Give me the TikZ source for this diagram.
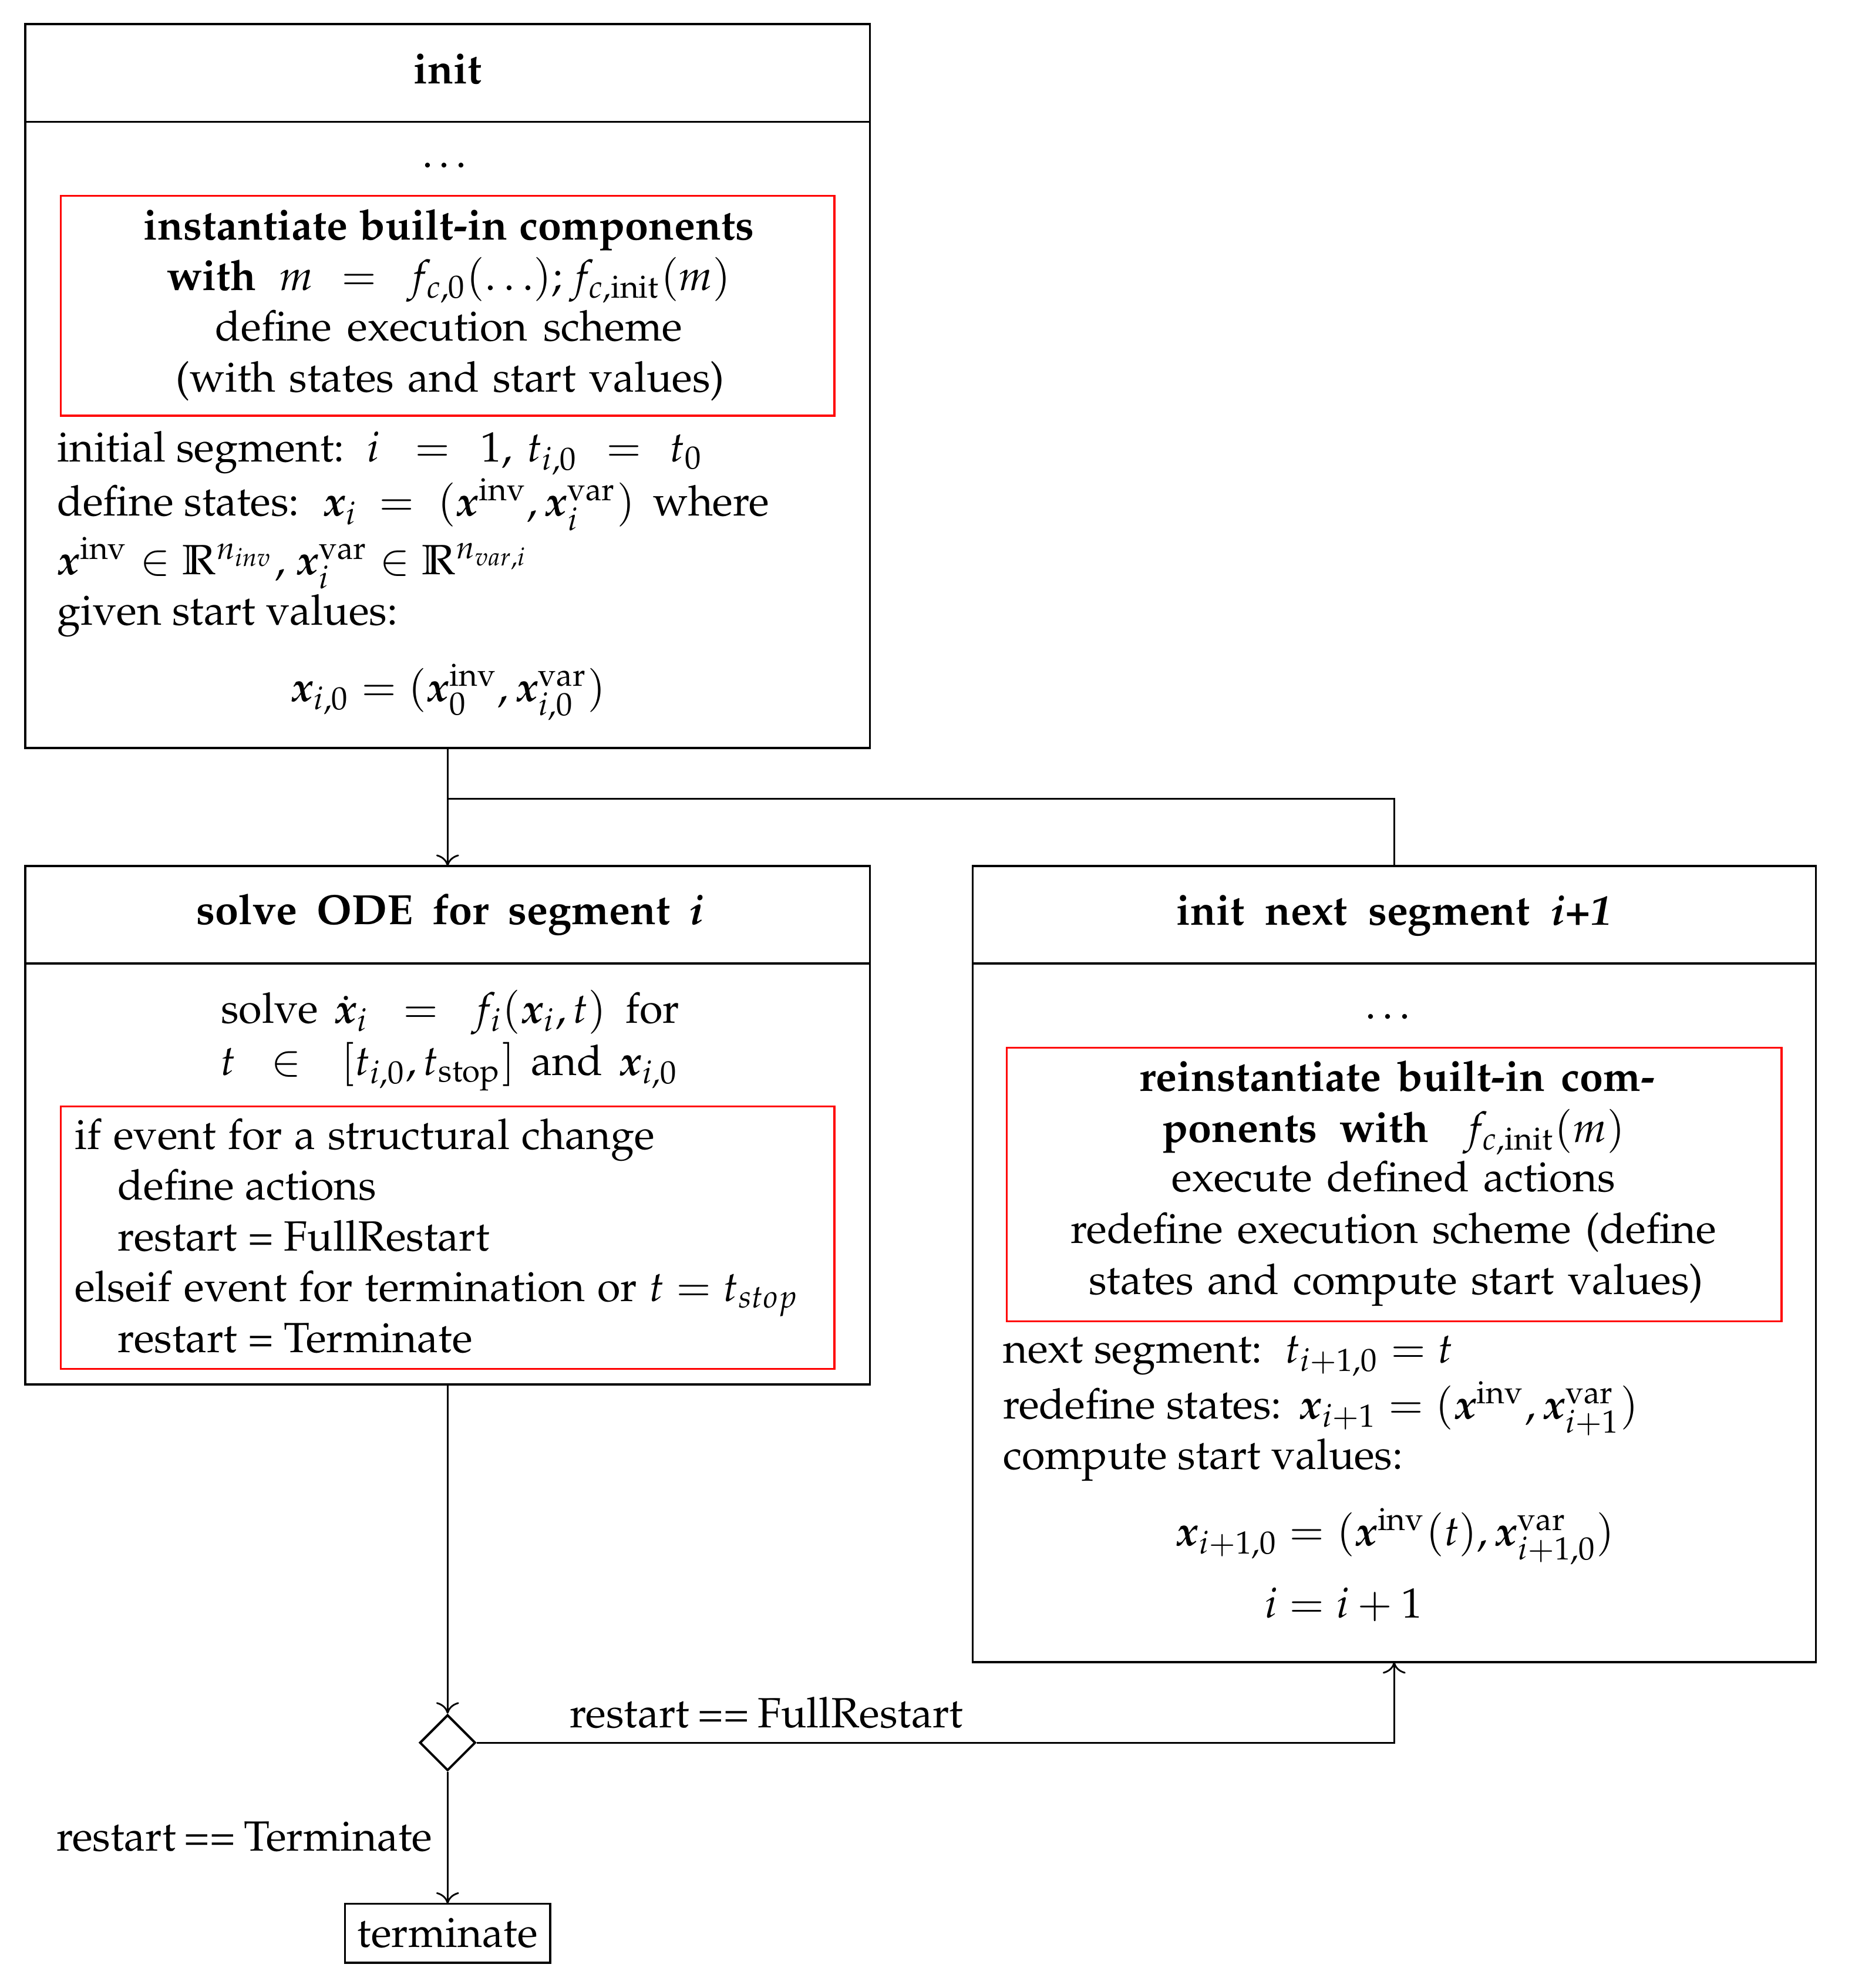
\documentclass[tikz,border=0pt]{standalone}
\usepackage[T1]{fontenc}
\usepackage{mathpazo}
\usepackage{amsmath}
\usetikzlibrary{shapes.geometric,arrows.meta}
\newcommand{\bx}{\boldsymbol{x}}
\begin{document}
\begin{tikzpicture}[x=0.3pt,y=-0.3pt,
  box/.style={draw,line width=0.5pt,rectangle,inner sep=0pt,outer sep=0pt},
  redbox/.style={draw=red,line width=0.45pt,rectangle,inner sep=0pt,outer sep=0pt},
  txt/.style={inner sep=0pt,outer sep=0pt},
  conn/.style={line width=0.4pt},
  arr/.style={-{To[width=5.4pt,length=2.7pt]},line width=0.4pt},
  dec/.style={diamond,draw,line width=0.55pt,inner sep=0pt,minimum width=13.2pt,minimum height=13.2pt}]
\useasboundingbox (0,0) rectangle (1468,1568);
% boxes
\node[box,minimum width=199.8pt,minimum height=171.3pt] (init) at (353,304.5) {};
\draw[box] ([yshift=-23.1pt]init.north west) -- ([yshift=-23.1pt]init.north east);
\node[box,minimum width=199.8pt,minimum height=122.7pt] (solve) at (353,887.5) {};
\draw[box] ([yshift=-23.1pt]solve.north west) -- ([yshift=-23.1pt]solve.north east);
\node[box,minimum width=199.5pt,minimum height=188.4pt] (next) at (1099.5,997) {};
\draw[box] ([yshift=-23.1pt]next.north west) -- ([yshift=-23.1pt]next.north east);
\node[redbox,minimum width=183pt,minimum height=51.96pt] (r1) at (353,241.2) {};
\node[redbox,minimum width=183pt,minimum height=62.1pt] (r2) at (353,976) {};
\node[redbox,minimum width=183.3pt,minimum height=64.7pt] (r3) at (1099.5,934.2) {};
\node[dec] (dec) at (353,1374.5) {};
\node[box,minimum width=48.6pt,minimum height=14pt] (term) at (353,1524.8) {terminate};
\coordinate (join) at (353,630);
% connectors
\draw[arr] (init.south) -- (solve.north);
\draw[conn] (next.north) |- (join);
\draw[arr] (solve.south) -- (dec.north);
\draw[arr] (dec.east) -| (next.south);
\draw[arr] (dec.south) -- (term.north);
\node[txt,anchor=base] (lblF) at (604.5,1362.8) {\spaceskip=2pt\relax restart == FullRestart};
\node[txt,anchor=base east] (lblT) at (341,1460) {\spaceskip=2pt\relax restart == Terminate};
% init box texts
\node[txt,anchor=base] (t0) at (353,66) {\textbf{init}};
\node[txt,anchor=base] (t1) at (353,132) {\ldots};
\node[txt,anchor=base] (t2) at (354,189) {\bfseries\spaceskip=2.8pt\relax instantiate built-in components};
\node[txt,anchor=base] (t3) at (354,229) {\textbf{with}\hspace{5.5pt}$m\mkern7mu=\mkern8mu f_{c,0}(\ldots);f_{c,\text{init}}(m)$};
\node[txt,anchor=base] (t4) at (354,269) {\spaceskip=3.7pt\relax define execution scheme};
\node[txt,anchor=base] (t5) at (355,309) {\spaceskip=3.2pt\relax (with states and start values)};
\node[txt,anchor=base west] (t6) at (45,364) {initial segment:\hspace{5.3pt}$i\mkern10mu=\mkern8mu1$,\hspace{3.5pt}$t_{i,0}\mkern7mu=\mkern7mu t_0$};
\node[txt,anchor=base west] (t7) at (45,407) {define states:\hspace{5.6pt}$\bx_i\mkern4mu=\mkern5mu(\bx^{\text{inv}},\bx_i^{\text{var}})$\hspace{4.3pt}where};
\node[txt,anchor=base west] (t8) at (45,453) {$\bx^{\text{inv}}\in\mathbb{R}^{n_{inv}}$, $\bx_i^{\text{var}}\in\mathbb{R}^{n_{var,i}}$};
\node[txt,anchor=base west] (t9) at (45,493) {given start values:};
\node[txt,anchor=base] (t10) at (353.5,553) {$\bx_{i,0}=(\bx_0^{\text{inv}},\bx_{i,0}^{\text{var}})$};
% solve box texts
\node[txt,anchor=base] (s0) at (355,729) {\bfseries\spaceskip=4.6pt\relax solve ODE for segment \textit{i}};
\node[txt,anchor=base] (s1) at (355,807) {solve\hspace{3.8pt}$\dot{\bx}_i\mkern9.5mu=\mkern9mu f_i(\bx_i,t)$\hspace{4.5pt}for};
\node[txt,anchor=base] (s2) at (354.5,848) {$t\mkern10mu\in\mkern12mu[t_{i,0},t_{\text{stop}}]$\hspace{3.8pt}and\hspace{4pt}$\bx_{i,0}$};
\node[txt,anchor=base west] (s3) at (59,906.5) {\spaceskip=2.9pt\relax if event for a structural change};
\node[txt,anchor=base west] (s4) at (93,946.5) {define actions};
\node[txt,anchor=base west] (s5) at (93,986.5) {restart = FullRestart};
\node[txt,anchor=base west] (s6) at (59,1026.5) {\spaceskip=2.9pt\relax elseif event for termination or $t=t_{stop}$};
\node[txt,anchor=base west] (s7) at (93,1066.5) {restart = Terminate};
% next box texts
\node[txt,anchor=base] (n0) at (1099.5,729.4) {\bfseries\spaceskip=4.9pt\relax init next segment \textit{i+1}};
\node[txt,anchor=base] (n1) at (1097,803.7) {\ldots};
\node[txt,anchor=base] (n2) at (1102,860.5) {\bfseries\spaceskip=3.8pt\relax reinstantiate built-in com-};
\node[txt,anchor=base] (n3) at (1099,900.7) {\textbf{ponents}\hspace{5.3pt}\textbf{with}\hspace{8.2pt}$f_{c,\text{init}}(m)$};
\node[txt,anchor=base] (n4) at (1099,940) {\spaceskip=3.4pt\relax execute defined actions};
\node[txt,anchor=base] (n5) at (1099,980.5) {\spaceskip=3.4pt\relax redefine execution scheme (define};
\node[txt,anchor=base] (n6) at (1101,1020.7) {\spaceskip=3.3pt\relax states and compute start values)};
\node[txt,anchor=base west] (n7) at (791,1075) {next segment:\hspace{5.4pt}$t_{i+1,0}=t$};
\node[txt,anchor=base west] (n8) at (791,1119) {redefine states:\hspace{4.2pt}$\bx_{i+1}=(\bx^{\text{inv}},\bx_{i+1}^{\text{var}})$};
\node[txt,anchor=base west] (n9) at (791,1159) {compute start values:};
\node[txt,anchor=base east] (n10) at (1007.7,1219) {$\bx_{i+1,0}$};
\node[txt,anchor=base west] (n11) at (1007.7,1219) {${}=(\bx^{\text{inv}}(t),\bx_{i+1,0}^{\text{var}})$};
\node[txt,anchor=base east] (n12) at (1007.7,1276) {$i$};
\node[txt,anchor=base west] (n13) at (1007.7,1276) {${}=i+1$};
\end{tikzpicture}
\end{document}
